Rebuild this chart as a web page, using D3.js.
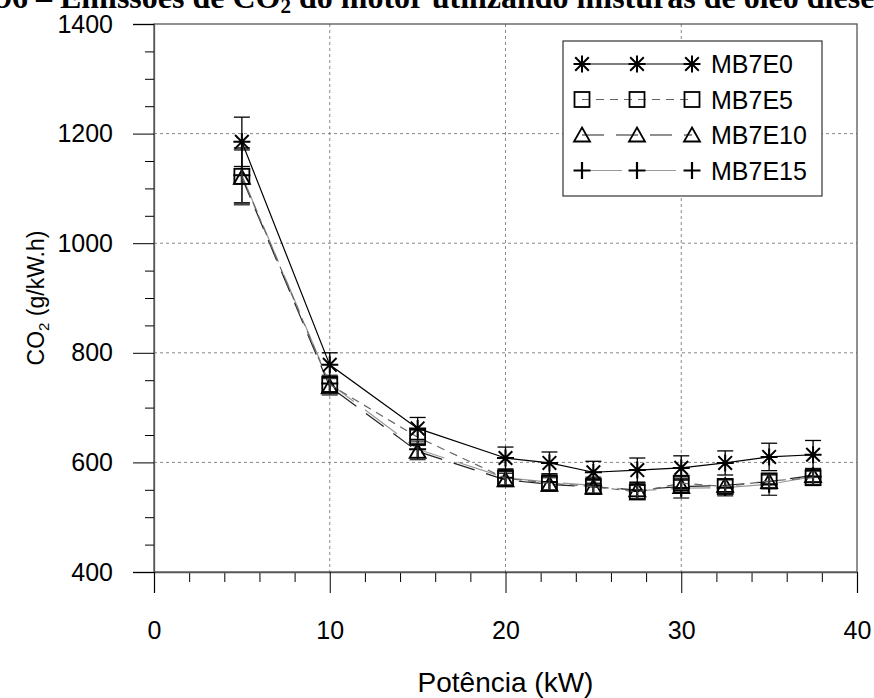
<!DOCTYPE html>
<meta charset="utf-8">
<html>
<head>
    <style>
        body { margin: 0; background: #fff; }
        svg { font-family: "Liberation Sans", Arial, sans-serif; }
        .grid line { stroke: #888; stroke-dasharray: 3,3; stroke-width: 1; }
    </style>
    <script src="https://d3js.org/d3.v7.min.js"></script>
</head>
<body>
  <svg width="874" height="698"></svg>
  <script>

      // data
      var potencia = [5, 10, 15, 20, 22.5, 25, 27.5, 30, 32.5, 35, 37.5];
      var mb7e0  = [1185, 778, 662, 608, 599, 582, 586, 590, 599, 610, 614];
      var mb7e5  = [1122, 742, 646, 571, 562, 556, 546, 562, 556, 566, 572];
      var mb7e10 = [1120, 738, 620, 568, 560, 555, 550, 556, 558, 565, 576];
      var mb7e15 = [1124, 744, 624, 572, 564, 558, 548, 553, 554, 560, 574];
      var err0   = [45, 22, 20, 20, 20, 20, 22, 22, 22, 25, 26];
      var err5   = [50, 15, 15, 12, 12, 12, 12, 12, 12, 12, 12];
      var err10  = [50, 15, 15, 12, 12, 12, 12, 12, 12, 12, 12];
      var err15  = [50, 15, 15, 15, 15, 15, 15, 18, 15, 20, 15];
      var seriesNames = ["MB7E0", "MB7E5", "MB7E10", "MB7E15"];
      var xTicks = [0, 10, 20, 30, 40];
      var yTicks = [400, 600, 800, 1000, 1200, 1400];

      var svg = d3.select("svg");
      var pLeft = 154, pRight = 857, pTop = 24, pBottom = 572;

      var x = d3.scaleLinear().domain([0, 40]).range([pLeft, pRight]);
      var y = d3.scaleLinear().domain([400, 1400]).range([pBottom, pTop]);

      // clipped caption at the top
      var cap = svg.append("text")
         .attr("y", 8)
         .attr("font-family", "Liberation Serif, Times New Roman, serif")
         .attr("font-weight", "bold")
         .attr("font-size", "32px");
      cap.append("tspan").text("Figura 5.96 – Emissões de CO");
      cap.append("tspan").attr("font-size", "21px").attr("dy", 5).text("2");
      cap.append("tspan").attr("dy", -5).text(" do motor utilizando misturas de óleo diesel e etanol");
      var pre = cap.node().getSubStringLength(0, "Figura 5.96 – ".length);
      cap.attr("x", 60 - pre);

      // grid
      var grid = svg.append("g").attr("class", "grid");
      grid.selectAll(".gx").data([10, 20, 30]).enter().append("line")
          .attr("x1", function(d) { return x(d); }).attr("x2", function(d) { return x(d); })
          .attr("y1", pTop).attr("y2", pBottom);
      grid.selectAll(".gy").data([600, 800, 1000, 1200]).enter().append("line")
          .attr("x1", pLeft).attr("x2", pRight)
          .attr("y1", function(d) { return y(d); }).attr("y2", function(d) { return y(d); });

      // frame
      svg.append("rect")
         .attr("x", pLeft).attr("y", pTop)
         .attr("width", pRight - pLeft).attr("height", pBottom - pTop)
         .attr("fill", "none").attr("stroke", "#555").attr("stroke-width", 1.3);

      // axes
      var yMinor = d3.range(400, 1401, 50).filter(function(d) { return d % 200 != 0; });
      svg.append("g")
         .attr("transform", "translate(" + pLeft + ",0)")
         .call(d3.axisLeft(y).tickValues(yMinor).tickSize(9).tickFormat(""))
         .call(function(g) { g.select(".domain").remove(); });
      svg.append("g")
         .attr("transform", "translate(" + pLeft + ",0)")
         .call(d3.axisLeft(y).tickValues(yTicks).tickSize(21).tickPadding(20).tickFormat(d3.format("d")))
         .call(function(g) {
             g.select(".domain").attr("stroke", "#555").attr("stroke-width", 1.3);
             g.selectAll("text").attr("font-size", "25px").attr("fill", "#000")
              .attr("font-family", "Liberation Sans, Arial, sans-serif");
         });

      var xMinor = d3.range(0, 41, 2).filter(function(d) { return d % 10 != 0; });
      svg.append("g")
         .attr("transform", "translate(0," + pBottom + ")")
         .call(d3.axisBottom(x).tickValues(xMinor).tickSize(10).tickFormat(""))
         .call(function(g) { g.select(".domain").remove(); });
      svg.append("g")
         .attr("transform", "translate(0," + pBottom + ")")
         .call(d3.axisBottom(x).tickValues(xTicks).tickSize(21).tickPadding(28))
         .call(function(g) {
             g.select(".domain").attr("stroke", "#555").attr("stroke-width", 1.3);
             g.selectAll("text").attr("font-size", "25px").attr("fill", "#000")
              .attr("font-family", "Liberation Sans, Arial, sans-serif");
         });

      svg.append("text")
         .attr("x", (pLeft + pRight) / 2)
         .attr("y", 692)
         .attr("text-anchor", "middle")
         .attr("font-size", "28px")
         .text("Potência (kW)");

      var yt = svg.append("text")
         .attr("transform", "translate(44," + ((pTop + pBottom) / 2) + ") rotate(-90)")
         .attr("text-anchor", "middle")
         .attr("font-size", "23px");
      yt.append("tspan").text("CO");
      yt.append("tspan").attr("font-size", "15px").attr("dy", 5).text("2");
      yt.append("tspan").attr("dy", -5).text(" (g/kW.h)");

      // series
      var series = [
          { name: seriesNames[0], v: mb7e0,  e: err0,  sym: "star",   stroke: "#000", dash: null,    ebar: "#000" },
          { name: seriesNames[1], v: mb7e5,  e: err5,  sym: "square", stroke: "#666", dash: "8,6",   ebar: "#333" },
          { name: seriesNames[2], v: mb7e10, e: err10, sym: "tri",    stroke: "#222", dash: "22,12", ebar: "#333" },
          { name: seriesNames[3], v: mb7e15, e: err15, sym: "plus",   stroke: "#999", dash: "40,14", ebar: "#222" }
      ];

      function drawMarker(g, sym) {
          var s = 8.5;
          if (sym == "star") {
              g.append("path").attr("d",
                  "M" + (-s) + ",0H" + s +
                  "M0," + (-s) + "V" + s +
                  "M" + (-s * 0.8) + "," + (-s * 0.8) + "L" + (s * 0.8) + "," + (s * 0.8) +
                  "M" + (-s * 0.8) + "," + (s * 0.8) + "L" + (s * 0.8) + "," + (-s * 0.8))
               .attr("stroke", "#000").attr("stroke-width", 2).attr("fill", "none");
          } else if (sym == "square") {
              g.append("rect").attr("x", -s + 1).attr("y", -s + 1)
               .attr("width", 2 * s - 2).attr("height", 2 * s - 2)
               .attr("fill", "none").attr("stroke", "#000").attr("stroke-width", 1.8);
          } else if (sym == "tri") {
              g.append("path").attr("d", "M0," + (-s + 1) + "L" + (s - 0.5) + "," + (s - 2) + "L" + (-s + 0.5) + "," + (s - 2) + "Z")
               .attr("fill", "none").attr("stroke", "#000").attr("stroke-width", 1.8);
          } else {
              g.append("path").attr("d", "M" + (-s) + ",0H" + s + "M0," + (-s) + "V" + s)
               .attr("stroke", "#000").attr("stroke-width", 2.2).attr("fill", "none");
          }
      }

      var line = d3.line()
          .x(function(d) { return x(d[0]); })
          .y(function(d) { return y(d[1]); });

      series.slice().reverse().forEach(function(s) {
          var pts = potencia.map(function(p, i) { return [p, s.v[i], s.e[i]]; });
          var g = svg.append("g");
          g.append("path")
           .datum(pts)
           .attr("d", line)
           .attr("fill", "none")
           .attr("stroke", s.stroke)
           .attr("stroke-width", 1.2)
           .attr("stroke-dasharray", s.dash);

          // error bars
          var eb = g.selectAll(".eb").data(pts).enter().append("g")
              .attr("stroke", s.ebar).attr("stroke-width", 1.3);
          eb.append("line")
            .attr("x1", function(d) { return x(d[0]); }).attr("x2", function(d) { return x(d[0]); })
            .attr("y1", function(d) { return y(d[1] - d[2]); })
            .attr("y2", function(d) { return y(d[1] + d[2]); });
          [1, -1].forEach(function(sg) {
              eb.append("line")
                .attr("x1", function(d) { return x(d[0]) - 8; }).attr("x2", function(d) { return x(d[0]) + 8; })
                .attr("y1", function(d) { return y(d[1] + sg * d[2]); })
                .attr("y2", function(d) { return y(d[1] + sg * d[2]); });
          });

          g.selectAll(".mk").data(pts).enter().append("g")
           .attr("transform", function(d) { return "translate(" + x(d[0]) + "," + y(d[1]) + ")"; })
           .each(function() { drawMarker(d3.select(this), s.sym); });
      });

      // legend
      var lg = svg.append("g");
      lg.append("rect")
        .attr("x", 563).attr("y", 41).attr("width", 259).attr("height", 155)
        .attr("fill", "#fff").attr("stroke", "#333").attr("stroke-width", 1.2);
      series.forEach(function(s, i) {
          var ry = 64 + i * 35.5;
          lg.append("line")
            .attr("x1", 582).attr("x2", 692).attr("y1", ry).attr("y2", ry)
            .attr("stroke", s.stroke).attr("stroke-width", 1.2)
            .attr("stroke-dasharray", s.dash);
          [582, 637, 692].forEach(function(mx) {
              var m = lg.append("g").attr("transform", "translate(" + mx + "," + ry + ")");
              drawMarker(m, s.sym);
          });
          lg.append("text")
            .attr("x", 711).attr("y", ry + 9)
            .attr("font-size", "25px")
            .text(s.name);
      });

  </script>
</body>
</html>
